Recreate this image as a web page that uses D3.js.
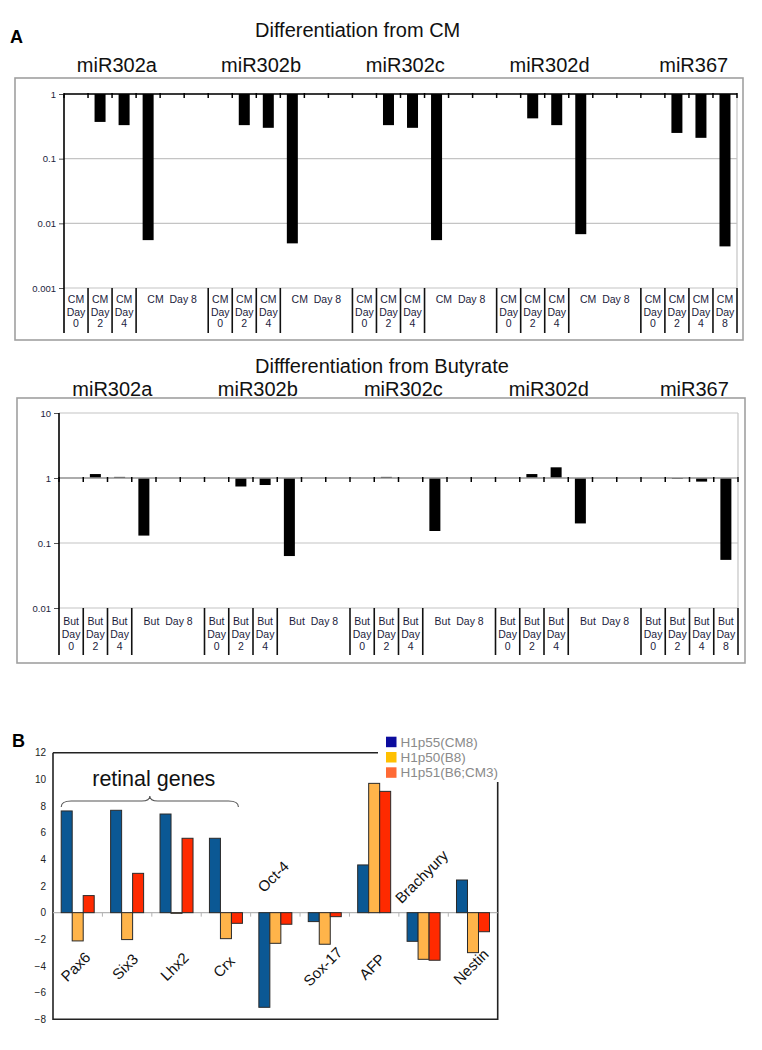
<!DOCTYPE html>
<html>
<head>
<meta charset="utf-8">
<script src="https://cdn.jsdelivr.net/npm/d3@7"></script>
<style>
body { margin: 0; background: #fff; }
svg { font-family: "Liberation Sans", Arial, sans-serif; }
</style>
</head>
<body>
<svg id="chart" width="762" height="1050"></svg>
<script>
/**********************************************************/
/*	Data												  */
/**********************************************************/

var mirNames = ["miR302a", "miR302b", "miR302c", "miR302d", "miR367"];
var dayNumbers = ["0", "2", "4", "8"];

// relative expression (day 0 = 1), one row per miR : day 0, 2, 4, 8
var cmValues = [
	[1, 0.37, 0.33, 0.0055],
	[1, 0.33, 0.30, 0.0049],
	[1, 0.33, 0.30, 0.0055],
	[1, 0.42, 0.33, 0.0068],
	[1, 0.25, 0.21, 0.0044]
];
var butValues = [
	[1, 1.15, 1.04, 0.13],
	[1, 0.74, 0.78, 0.063],
	[1, 1.04, 1.0, 0.153],
	[1, 1.15, 1.46, 0.20],
	[1, 0.97, 0.88, 0.055]
];
var cmTicks = [1, 0.1, 0.01, 0.001];
var butTicks = [10, 1, 0.1, 0.01];

var genes = ["Pax6", "Six3", "Lhx2", "Crx", "Oct-4", "Sox-17", "AFP", "Brachyury", "Nestin"];
var seriesNames = ["H1p55(CM8)", "H1p50(B8)", "H1p51(B6;CM3)"];
var h1p55 = [7.63, 7.68, 7.4, 5.58, -7.1, -0.67, 3.58, -2.15, 2.45];
var h1p50 = [-2.12, -2.02, -0.05, -1.95, -2.3, -2.37, 9.7, -3.5, -3.0];
var h1p51 = [1.28, 2.95, 5.58, -0.8, -0.87, -0.3, 9.1, -3.57, -1.43];
var geneTicks = [12, 10, 8, 6, 4, 2, 0, -2, -4, -6, -8];

/**********************************************************/
/*	Layout												  */
/**********************************************************/

var svg = d3.select("#chart");

var panelCM = {
	box: { x: 15, y: 78, w: 728, h: 262 },
	left: 64, right: 737, top: 94, bottom: 288, cellsBottom: 333,
	domain: [0.001, 1], ticks: cmTicks, values: cmValues,
	title: "Differentiation from CM", titleY: 36.5, mirY: 72,
	prefix: "CM", cellLines: [15, 27.5, 39], axisColor: "#000"
};
var panelBut = {
	box: { x: 17, y: 398, w: 728, h: 265 },
	left: 59, right: 738, top: 413, bottom: 608, cellsBottom: 655,
	domain: [0.01, 10], ticks: butTicks, values: butValues,
	title: "Diffferentiation from Butyrate", titleY: 373, mirY: 396,
	prefix: "But", cellLines: [17, 29.5, 41.5], axisColor: "#9a9a9a"
};

/**
 * Category slots : 6 per miR (4 days + 2 spare), only 4 for the last one
 */
function buildSlots() {
	var slots = [];
	mirNames.forEach(function(m, g) {
		var n = (g < mirNames.length - 1) ? 6 : 4;
		for (var i = 0; i < n; i++) slots.push(g + "-" + i);
	});
	return slots;
}

/**
 * Log scale panel (part A)
 */
function drawLogPanel(o) {
	var slots = buildSlots();
	var x = d3.scaleBand().domain(slots).range([o.left, o.right]);
	var y = d3.scaleLog().domain(o.domain).range([o.bottom, o.top]);
	var step = x.step();
	var g = svg.append("g");

	// Frame
	g.append("rect")
		.attr("x", o.box.x).attr("y", o.box.y)
		.attr("width", o.box.w).attr("height", o.box.h)
		.attr("fill", "none").attr("stroke", "#a0a0a0").attr("stroke-width", 1.6);

	// Titles
	g.append("text").attr("x", 255).attr("y", o.titleY)
		.attr("font-size", 20).attr("fill", "#111").text(o.title);
	g.selectAll(".mir").data(mirNames).enter().append("text")
		.attr("x", function(d, i) { return x(i + "-0") + step * 2.2; })
		.attr("y", o.mirY)
		.attr("text-anchor", "middle").attr("font-size", 20).attr("fill", "#111")
		.text(function(d) { return d; });

	// Grid
	g.selectAll(".grid").data(o.ticks).enter().append("line")
		.attr("x1", o.left).attr("x2", o.right)
		.attr("y1", function(d) { return y(d); }).attr("y2", function(d) { return y(d); })
		.attr("stroke", "#c4c4c4").attr("stroke-width", 1.2);
	g.append("line")
		.attr("x1", o.right).attr("x2", o.right).attr("y1", o.top).attr("y2", o.bottom)
		.attr("stroke", "#c4c4c4").attr("stroke-width", 1.2);

	// Bars
	o.values.forEach(function(row, gi) {
		row.forEach(function(v, d) {
			var cx = x(gi + "-" + d) + x.bandwidth() / 2;
			g.append("rect")
				.attr("x", cx - 5.5).attr("width", 11)
				.attr("y", y(Math.max(v, 1)))
				.attr("height", Math.abs(y(v) - y(1)))
				.attr("fill", "#000");
		});
	});

	// Category axis (crosses at 1)
	g.append("line")
		.attr("x1", o.left).attr("x2", o.right).attr("y1", y(1)).attr("y2", y(1))
		.attr("stroke", o.axisColor).attr("stroke-width", 1.3);
	g.selectAll(".ctick").data(slots.concat(["end"])).enter().append("line")
		.attr("x1", function(d) { return d == "end" ? o.right : x(d); })
		.attr("x2", function(d) { return d == "end" ? o.right : x(d); })
		.attr("y1", y(1) - 1).attr("y2", y(1) + 4)
		.attr("stroke", "#000").attr("stroke-width", 1.5);

	// Y axis
	var axis = g.append("g")
		.attr("transform", "translate(" + o.left + ",0)")
		.call(d3.axisLeft(y).tickValues(o.ticks).tickFormat(d3.format("~g")).tickSize(5).tickSizeOuter(0));
	axis.select(".domain").remove();
	axis.selectAll("text").attr("font-size", 9.5).attr("fill", "#1c1c3c")
		.style("font-family", "Liberation Sans, Arial, sans-serif");
	axis.selectAll(".tick line").attr("stroke", "#555");
	g.append("line")
		.attr("x1", o.left).attr("x2", o.left).attr("y1", o.top).attr("y2", o.cellsBottom)
		.attr("stroke", "#000").attr("stroke-width", 1.6);

	// Category cells
	var cells = [];
	mirNames.forEach(function(m, gi) {
		var last = gi == mirNames.length - 1;
		dayNumbers.forEach(function(day, d) {
			var wide = (d == 3 && !last);
			cells.push({
				x0: x(gi + "-" + d),
				x1: x(gi + "-" + (wide ? 5 : d)) + step,
				wide: wide,
				day: day
			});
		});
	});
	cells.forEach(function(c) {
		g.append("line")
			.attr("x1", c.x1).attr("x2", c.x1).attr("y1", o.bottom).attr("y2", o.cellsBottom)
			.attr("stroke", "#111").attr("stroke-width", 1.6);
		var cx = (c.x0 + c.x1) / 2;
		var lines = c.wide ? [o.prefix + "  Day " + c.day] : [o.prefix, "Day", c.day];
		lines.forEach(function(t, li) {
			g.append("text")
				.attr("x", cx).attr("y", o.bottom + o.cellLines[li])
				.attr("text-anchor", "middle").attr("font-size", 10.5).attr("fill", "#1c1c3c")
				.style("white-space", "pre")
				.text(t);
		});
	});
}

/**
 * Linear grouped bars (part B)
 */
function drawGenePanel() {
	var left = 53, right = 497.7, top = 752.7, bottom = 1019.3;
	var x = d3.scaleBand().domain(genes).range([left, right]);
	var y = d3.scaleLinear().domain([-8, 12]).range([bottom, top]);
	var series = [h1p55, h1p50, h1p51];
	var barColors = ["#0b5894", "#ffb44a", "#ff2a00"];
	var legendColors = ["#0c0c9e", "#ffc000", "#ff6a35"];
	var barW = 11;
	var xs = d3.scaleBand().domain(d3.range(series.length)).range([0, barW * series.length]);
	var offset = (x.bandwidth() - barW * series.length) / 2;
	var g = svg.append("g");

	// Frame
	g.append("path")
		.attr("d", "M" + left + "," + top + "V" + bottom + "H" + right + "V" + top + "H" + left)
		.attr("fill", "none").attr("stroke", "#222").attr("stroke-width", 1.6);

	// Y axis labels
	var axis = g.append("g")
		.attr("transform", "translate(" + left + ",0)")
		.call(d3.axisLeft(y).tickValues(geneTicks).tickSize(0).tickPadding(7));
	axis.select(".domain").remove();
	axis.selectAll("text").attr("font-size", 10).attr("fill", "#222")
		.style("font-family", "Liberation Sans, Arial, sans-serif");

	// Zero line
	g.append("line")
		.attr("x1", left).attr("x2", right).attr("y1", y(0)).attr("y2", y(0))
		.attr("stroke", "#b4b4b4").attr("stroke-width", 1.2);
	g.selectAll(".ztick").data(genes.slice(1)).enter().append("line")
		.attr("x1", function(d) { return x(d); }).attr("x2", function(d) { return x(d); })
		.attr("y1", y(0)).attr("y2", y(0) + 4)
		.attr("stroke", "#b4b4b4");

	// Bars
	series.forEach(function(values, si) {
		g.selectAll(".s" + si).data(values).enter().append("rect")
			.attr("x", function(d, i) { return x(genes[i]) + offset + xs(si); })
			.attr("width", barW)
			.attr("y", function(d) { return y(Math.max(d, 0)); })
			.attr("height", function(d) { return Math.abs(y(d) - y(0)); })
			.attr("fill", barColors[si])
			.attr("stroke", "#2a2a2a").attr("stroke-width", 1);
	});

	// Gene labels (rotated)
	var labelAbove = ["Oct-4", "Brachyury"];
	g.selectAll(".gene").data(genes).enter().append("text")
		.attr("transform", function(d) {
			var cx = x(d) + x.bandwidth() / 2 - 2;
			var cy = labelAbove.indexOf(d) >= 0 ? y(0) - 36 : y(0) + 54;
			return "translate(" + cx + "," + cy + ") rotate(-45)";
		})
		.attr("dy", "0.35em")
		.attr("text-anchor", "middle").attr("font-size", 15).attr("fill", "#111")
		.text(function(d) { return d; });

	// Retinal genes brace
	var x0 = x("Pax6") + offset, x1 = x("Crx") + offset + 29;
	var xm = (x0 + x1) / 2, yb = y(8) + 1, ym = y(8) - 5, yt = y(8) - 10;
	g.append("path")
		.attr("d", "M" + x0 + "," + yb + "Q" + x0 + "," + ym + " " + (x0 + 10) + "," + ym +
			"L" + (xm - 8) + "," + ym + "Q" + xm + "," + ym + " " + xm + "," + yt +
			"Q" + xm + "," + ym + " " + (xm + 8) + "," + ym +
			"L" + (x1 - 10) + "," + ym + "Q" + x1 + "," + ym + " " + x1 + "," + yb)
		.attr("fill", "none").attr("stroke", "#555").attr("stroke-width", 1.1);
	g.append("text")
		.attr("x", xm + 4).attr("y", y(8) - 20)
		.attr("text-anchor", "middle").attr("font-size", 21.5).attr("fill", "#111")
		.text("retinal genes");

	// Legend
	g.append("rect").attr("x", 378).attr("y", 732).attr("width", 123).attr("height", 50).attr("fill", "#fff");
	seriesNames.forEach(function(name, i) {
		var ly = 742 + i * 15.3;
		g.append("rect").attr("x", 386).attr("y", ly - 5.3).attr("width", 10.5).attr("height", 10.5)
			.attr("fill", legendColors[i]);
		g.append("text").attr("x", 400.5).attr("y", ly + 4.8)
			.attr("font-size", 13.5).attr("fill", "#8a8a8a").text(name);
	});
}

/**********************************************************/
/*	Paint												  */
/**********************************************************/

svg.append("rect").attr("width", 762).attr("height", 1050).attr("fill", "#fff");
svg.append("text").attr("x", 10).attr("y", 43).attr("font-size", 18).attr("font-weight", "bold").text("A");
svg.append("text").attr("x", 12).attr("y", 747).attr("font-size", 18).attr("font-weight", "bold").text("B");

drawLogPanel(panelCM);
drawLogPanel(panelBut);
drawGenePanel();
</script>
</body>
</html>
